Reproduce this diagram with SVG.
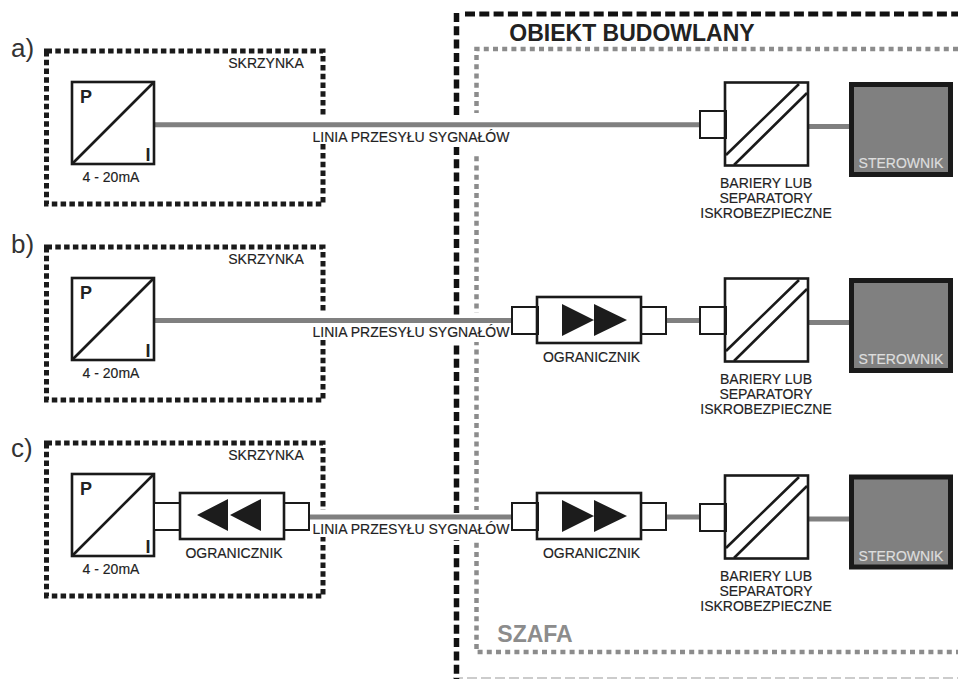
<svg xmlns="http://www.w3.org/2000/svg" width="958" height="679" viewBox="0 0 958 679">
<style>
text{font-family:"Liberation Sans",Arial,sans-serif;fill:#222;text-anchor:middle}
.s{font-size:14px;stroke:#222;stroke-width:.15}
.l{font-size:26px;fill:#333;text-anchor:start}
.b{fill:#fff;stroke:#1a1a1a;stroke-width:2}
.k{fill:none;stroke:#1a1a1a;stroke-width:2.6}
.d{fill:none;stroke:#1a1a1a;stroke-width:5;stroke-dasharray:5.5 3.3}
.w{fill:none;stroke:#808080;stroke-width:5}
.bv{fill:none;stroke:#111;stroke-width:5.500;stroke-dasharray:9 4.3}
.bh{fill:none;stroke:#111;stroke-width:5;stroke-dasharray:10 4.3}
.gd{fill:none;stroke:#8c8c8c;stroke-width:4.500;stroke-dasharray:5 4.2}
.c{fill:#1c1c1c}
.m{fill:#fff}
</style>
<defs>
<g id="pi"><rect class="k" x="72" y="82" width="82" height="82" fill="#fff"/><path class="k" d="M72 164L154 82"/><text x="86" y="103" style="font-size:18px;font-weight:bold">P</text><text x="148" y="161" style="font-size:18px;font-weight:bold">I</text><text class="s" x="111" y="182">4 - 20mA</text></g>
<g id="box"><path class="d" d="M46.500 51H323V204H46.500Z"/><text class="s" x="266" y="67.500">SKRZYNKA</text></g>
<g id="bar"><rect class="b" x="700" y="111" width="26" height="27"/><rect class="k" x="725" y="82.500" width="83" height="83" fill="#fff"/><path class="k" d="M726 155L799 84M734 165L807 93"/><text class="s" x="766" y="188">BARIERY LUB</text><text class="s" x="766" y="203">SEPARATORY</text><text class="s" x="766" y="218">ISKROBEZPIECZNE</text></g>
<g id="ster"><rect x="851.500" y="84.500" width="99" height="90" fill="#808080" stroke="#1a1a1a" stroke-width="5"/><text x="901" y="168" style="font-size:14px;fill:#ddd;stroke:#ddd;stroke-width:.2">STEROWNIK</text></g>
<g id="lim"><rect class="b" x="512" y="307" width="26" height="27"/><rect class="b" x="641" y="307" width="25" height="27"/><rect class="k" x="537" y="297" width="104" height="46" fill="#fff"/><path class="c" d="M562 304L594 320L562 336ZM594 304L627 320L594 336Z"/><text class="s" x="591.500" y="362">OGRANICZNIK</text></g>
</defs>
<g id="frames">
<path d="M453 678H958" fill="none" stroke="#ccc" stroke-width="2" stroke-dasharray="10 4"/>
<path class="bv" d="M456.500 13V679"/>
<path class="bh" d="M465 14H958"/>
<path class="gd" d="M958 49H476.500V652H958"/>
<rect class="m" x="450" y="116" width="14" height="31"/>
<rect class="m" x="470" y="113" width="14" height="39"/>
<rect class="m" x="450" y="315" width="14" height="27"/>
<rect class="m" x="470" y="313" width="14" height="29"/>
<rect class="m" x="450" y="513" width="14" height="27"/>
<rect class="m" x="470" y="510" width="14" height="32"/>
<text x="632" y="41" style="font-size:23px;font-weight:bold">OBIEKT BUDOWLANY</text>
<text x="535" y="642" style="font-size:23px;font-weight:bold;fill:#8c8c8c">SZAFA</text>
</g>
<g id="boxes">
<use href="#box"/><use href="#box" y="196"/><use href="#box" y="392"/>
<rect class="m" x="318" y="117" width="10" height="27"/>
<rect class="m" x="318" y="313" width="10" height="27"/>
<rect class="m" x="318" y="510" width="10" height="27"/>
</g>
<g id="connectors">
<path class="w" d="M154 124.700H700M808 126.500H849M154 320.500H512M666 320.500H700M808 322.500H849M308 517H512M666 517H700M808 519H849"/>
</g>
<g id="labels">
<text class="l" x="11" y="57">a)</text><text class="l" x="11" y="253">b)</text><text class="l" x="11" y="457">c)</text>
<text class="s" x="411" y="142.300">LINIA PRZESYŁU SYGNAŁÓW</text>
<text class="s" x="411" y="336.700">LINIA PRZESYŁU SYGNAŁÓW</text>
<text class="s" x="411" y="534.300">LINIA PRZESYŁU SYGNAŁÓW</text>
</g>
<g id="sensor-a"><use href="#pi"/></g>
<g id="sensor-b"><use href="#pi" y="196"/></g>
<g id="sensor-c"><use href="#pi" y="392"/></g>
<g id="limiter-c-local">
<rect class="b" x="154" y="503" width="26" height="27"/>
<rect class="b" x="284" y="503" width="25" height="27"/>
<rect class="k" x="180" y="493" width="104" height="46" fill="#fff"/>
<path class="c" d="M228 499L197 515L228 531ZM261 499L230 515L261 531Z"/>
<text class="s" x="234" y="558">OGRANICZNIK</text>
</g>
<g id="limiter-b"><use href="#lim"/></g>
<g id="limiter-c"><use href="#lim" y="196"/></g>
<g id="barrier-a"><use href="#bar"/></g>
<g id="barrier-b"><use href="#bar" y="196"/></g>
<g id="barrier-c"><use href="#bar" y="393"/></g>
<g id="controller-a"><use href="#ster"/></g>
<g id="controller-b"><use href="#ster" y="196"/></g>
<g id="controller-c"><use href="#ster" y="392.500"/></g>
</svg>
